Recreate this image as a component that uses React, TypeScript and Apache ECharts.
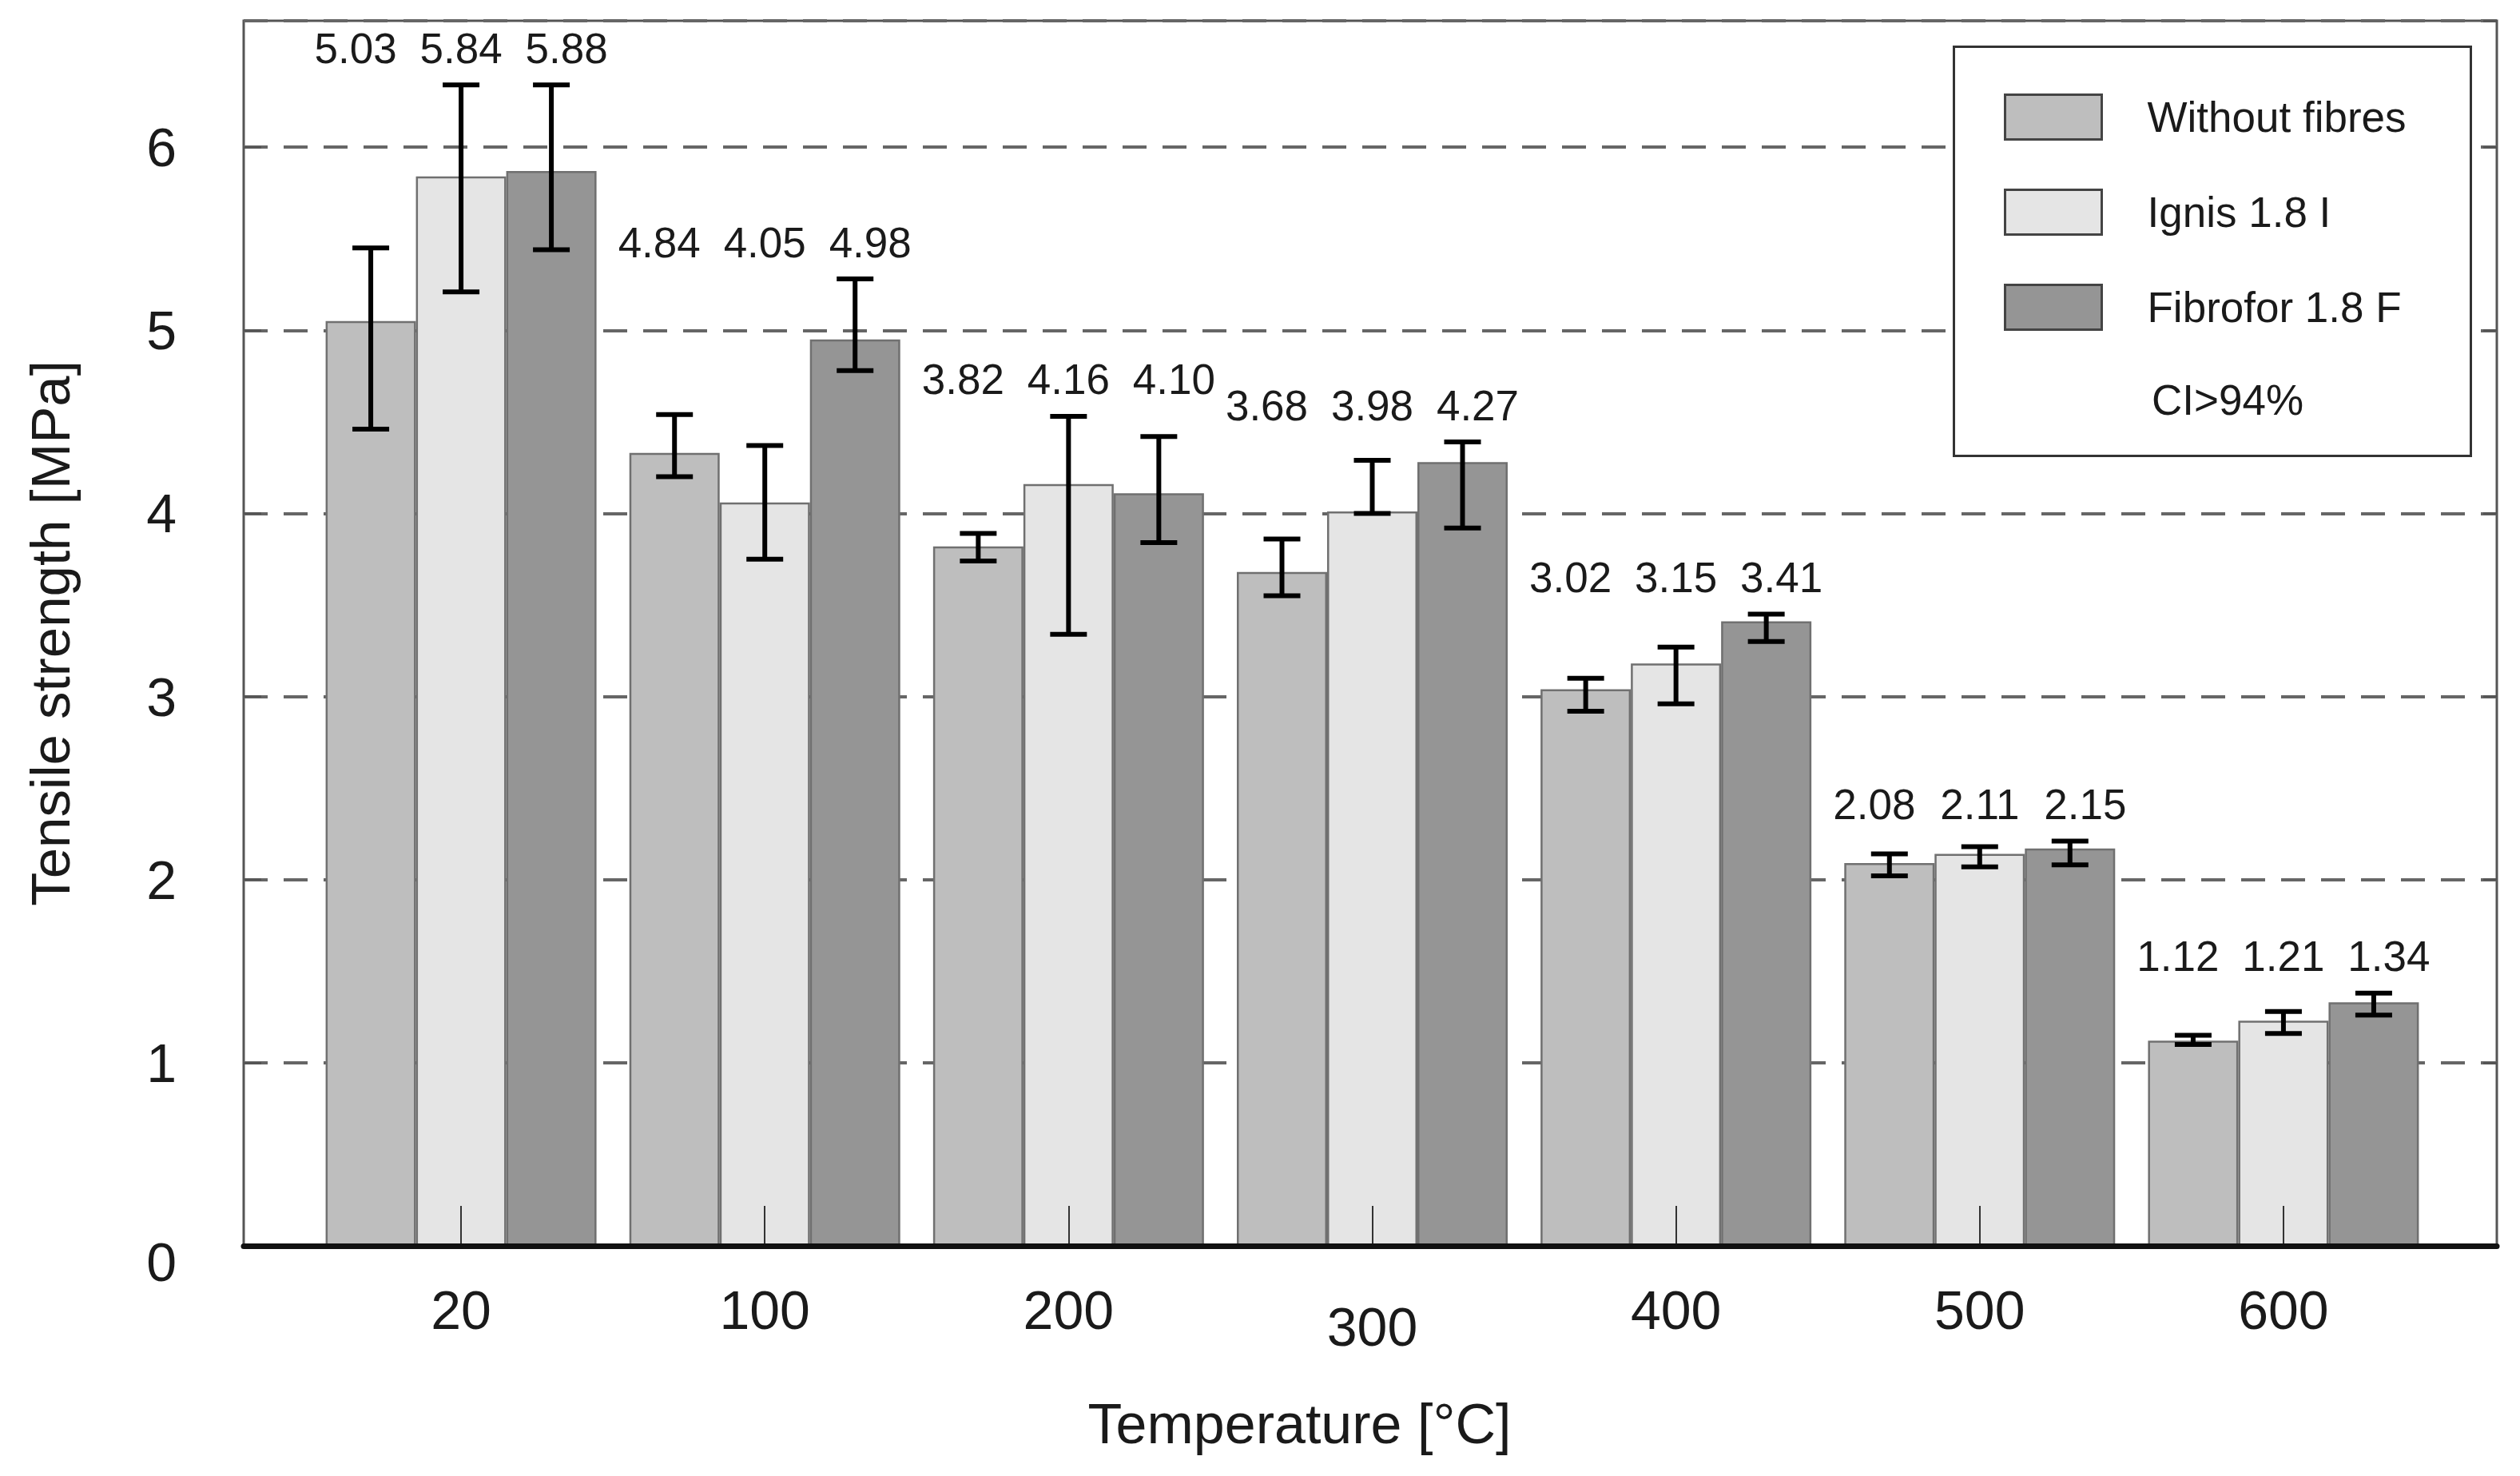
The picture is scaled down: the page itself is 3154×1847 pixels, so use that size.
import React, { useEffect, useRef } from 'react';
import * as echarts from 'echarts';

const FONT = '"Liberation Sans", Arial, sans-serif';
const TEXT = '#1a1a1a';

const temperatures = ['20', '100', '200', '300', '400', '500', '600'];
const seriesNames = ['Without fibres', 'Ignis 1.8 I', 'Fibrofor 1.8 F'];
const seriesColors = ['#bebebe', '#e5e5e5', '#959595'];

// bar heights as drawn
const withoutMean = [5.05, 4.33, 3.82, 3.68, 3.04, 2.09, 1.12];
const ignisMean = [5.84, 4.06, 4.16, 4.01, 3.18, 2.14, 1.23];
const fibroforMean = [5.87, 4.95, 4.11, 4.28, 3.41, 2.17, 1.33];

// confidence interval ends
const withoutLow = [4.46, 4.2, 3.74, 3.55, 2.92, 2.02, 1.1];
const withoutHigh = [5.45, 4.54, 3.89, 3.86, 3.1, 2.14, 1.15];
const ignisLow = [5.21, 3.75, 3.34, 4.0, 2.96, 2.07, 1.16];
const ignisHigh = [6.34, 4.37, 4.53, 4.29, 3.27, 2.18, 1.28];
const fibroforLow = [5.44, 4.78, 3.84, 3.92, 3.3, 2.08, 1.26];
const fibroforHigh = [6.34, 5.28, 4.42, 4.39, 3.45, 2.21, 1.38];

// printed labels above each group
const withoutLabels = ['5.03', '4.84', '3.82', '3.68', '3.02', '2.08', '1.12'];
const ignisLabels = ['5.84', '4.05', '4.16', '3.98', '3.15', '2.11', '1.21'];
const fibroforLabels = ['5.88', '4.98', '4.10', '4.27', '3.41', '2.15', '1.34'];

const yTicks = [0, 1, 2, 3, 4, 5, 6];
const Y_MAX = 6.69;
const BAR_W = 113;
const LABEL_STEP = 132;

const App: React.FC = () => {
  const chartRef = useRef<HTMLDivElement>(null);

  useEffect(() => {
    if (!chartRef.current) return;
    document.body.style.margin = '0';
    const chart = echarts.init(chartRef.current, null, { renderer: 'svg' });

    const means = [withoutMean, ignisMean, fibroforMean];
    const lows = [withoutLow, ignisLow, fibroforLow];
    const highs = [withoutHigh, ignisHigh, fibroforHigh];
    const labels = [withoutLabels, ignisLabels, fibroforLabels];
    const groupTop = temperatures.map((_, i) => Math.max(withoutHigh[i], ignisHigh[i], fibroforHigh[i]));

    const bars = seriesNames.map((name, k) => ({
      name,
      type: 'bar',
      xAxisIndex: 1,
      yAxisIndex: 2,
      data: means[k],
      barWidth: BAR_W,
      barGap: '0%',
      itemStyle: { color: seriesColors[k], borderColor: '#707070', borderWidth: 2.5 },
      z: 2,
    }));

    const errors = seriesNames.map((_, k) => ({
      type: 'custom',
      xAxisIndex: 1,
      yAxisIndex: 2,
      z: 4,
      encode: { x: 0, y: [1, 2] },
      data: temperatures.map((_, i) => [i, lows[k][i], highs[k][i], groupTop[i]]),
      renderItem: (params: any, api: any) => {
        const idx = api.value(0);
        const lo = api.coord([idx, api.value(1)]);
        const hi = api.coord([idx, api.value(2)]);
        const top = api.coord([idx, api.value(3)]);
        const x = lo[0] + (k - 1) * BAR_W;
        const cap = 23;
        const ls = { stroke: '#000', lineWidth: 6 };
        return {
          type: 'group',
          children: [
            { type: 'line', shape: { x1: x, y1: lo[1], x2: x, y2: hi[1] }, style: ls },
            { type: 'line', shape: { x1: x - cap, y1: lo[1], x2: x + cap, y2: lo[1] }, style: ls },
            { type: 'line', shape: { x1: x - cap, y1: hi[1], x2: x + cap, y2: hi[1] }, style: ls },
            {
              type: 'text',
              x: lo[0] + (k - 1) * LABEL_STEP,
              y: top[1] - 46,
              style: {
                text: labels[k][params.dataIndex],
                fontSize: 53,
                fontFamily: FONT,
                fill: TEXT,
                align: 'center',
                verticalAlign: 'middle',
              },
            },
          ],
        };
      },
    }));

    const option: any = {
      animation: false,
      backgroundColor: '#ffffff',
      textStyle: { fontFamily: FONT, color: TEXT },
      grid: [
        { left: 305, right: 29, top: 26, bottom: 288, show: true, borderColor: '#555', borderWidth: 3, backgroundColor: 'transparent' },
        { left: 387, right: 106, top: 26, bottom: 288 },
      ],
      legend: {
        orient: 'vertical',
        left: 2508,
        top: 117,
        padding: 0,
        itemWidth: 121,
        itemHeight: 56,
        itemGap: 60,
        icon: 'rect',
        z: 12,
        data: seriesNames,
        itemStyle: { borderColor: '#444', borderWidth: 3 },
        textStyle: { fontSize: 53, color: TEXT, fontFamily: FONT, padding: [0, 0, 6, 52] },
      },
      xAxis: [
        {
          gridIndex: 0,
          type: 'value',
          min: 0,
          max: 1,
          axisLine: { show: true, onZero: false, lineStyle: { color: '#111', width: 7 } },
          axisTick: { show: false },
          axisLabel: { show: false },
          splitLine: { show: false },
          z: 6,
        },
        {
          gridIndex: 1,
          type: 'category',
          data: temperatures,
          axisLine: { show: false },
          axisTick: { show: true, inside: true, alignWithLabel: true, length: 50, lineStyle: { color: '#333', width: 2 } },
          axisLabel: {
            fontSize: 68,
            color: TEXT,
            fontFamily: FONT,
            margin: 46,
            formatter: (v: string) => (v === '300' ? `{low|${v}}` : v),
            rich: { low: { fontSize: 68, color: TEXT, fontFamily: FONT, padding: [21, 0, 0, 0] } },
          },
          name: 'Temperature [°C]',
          nameLocation: 'middle',
          nameGap: 188,
          nameTextStyle: { fontSize: 70, color: TEXT, fontFamily: FONT, padding: [0, 182, 0, 0] },
          z: 5,
        },
      ],
      yAxis: [
        {
          gridIndex: 0,
          type: 'value',
          min: yTicks[0],
          max: Y_MAX,
          interval: 1,
          axisLine: { show: false },
          axisTick: { show: true, inside: true, length: 22, lineStyle: { color: '#555', width: 3 } },
          axisLabel: {
            fontSize: 68,
            color: TEXT,
            fontFamily: FONT,
            margin: 84,
            showMaxLabel: false,
            formatter: (v: number) => (v === 0 ? '{low|0}' : yTicks.includes(v) ? String(v) : ''),
            rich: { low: { fontSize: 68, color: TEXT, fontFamily: FONT, padding: [40, 0, 0, 0] } },
          },
          splitLine: { show: true, lineStyle: { type: [30, 20], color: '#666', width: 4 } },
          name: 'Tensile strength [MPa]',
          nameLocation: 'middle',
          nameGap: 207,
          nameRotate: 90,
          nameTextStyle: { fontSize: 69, color: TEXT, fontFamily: FONT },
        },
        {
          gridIndex: 0,
          type: 'value',
          position: 'right',
          min: yTicks[0],
          max: Y_MAX,
          interval: 1,
          axisLine: { show: false },
          axisTick: { show: true, inside: true, length: 17, lineStyle: { color: '#555', width: 3 } },
          axisLabel: { show: false },
          splitLine: { show: false },
        },
        { gridIndex: 1, type: 'value', min: yTicks[0], max: Y_MAX, show: false },
      ],
      graphic: [
        {
          type: 'rect',
          left: 2444,
          top: 57,
          shape: { width: 647, height: 512 },
          style: { fill: '#ffffff', stroke: '#333', lineWidth: 3 },
          z: 10,
        },
        {
          type: 'text',
          x: 2693,
          y: 500,
          style: { text: 'CI>94%', fontSize: 53, fontFamily: FONT, fill: TEXT, verticalAlign: 'middle' },
          z: 11,
        },
      ],
      series: [...bars, ...errors],
    };

    chart.setOption(option);
    return () => chart.dispose();
  }, []);

  return <div ref={chartRef} style={{ width: 3154, height: 1847 }} />;
};

export default App;
